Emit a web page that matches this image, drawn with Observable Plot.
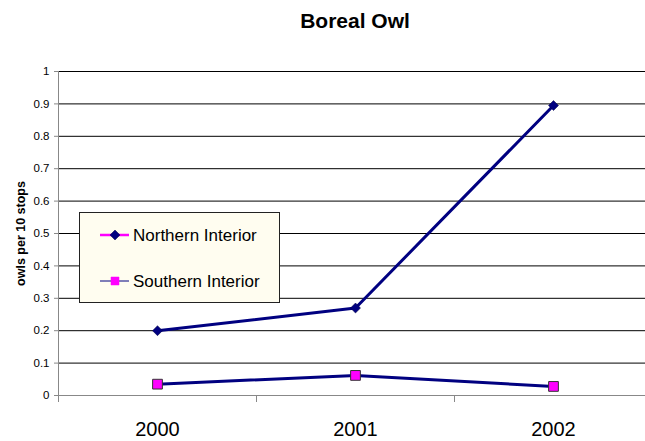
<!DOCTYPE html>
<html>
<head>
<meta charset="utf-8">
<script src="https://cdn.jsdelivr.net/npm/d3@7"></script>
<script src="https://cdn.jsdelivr.net/npm/@observablehq/plot@0.6"></script>
<style>
  html, body { margin: 0; padding: 0; background: #fff; }
  #wrap { position: relative; width: 645px; height: 441px; font-family: "Liberation Sans", Arial, sans-serif; overflow: hidden; }
  #title { height: 46px; width: 645px; text-align: center; box-sizing: border-box; padding-left: 65px; padding-top: 9px; font-weight: bold; font-size: 21px; color: #000; }
  #legend { position: absolute; left: 79px; top: 212px; width: 199px; height: 89px; border: 1px solid #222; background: #FFFDF0; }
</style>
</head>
<body>
<div id="wrap">
  <div id="title">Boreal Owl</div>
  <div id="chart"></div>
  <div id="legend"></div>
</div>
<script>
const years = [2000, 2001, 2002];
const northern = [0.2, 0.27, 0.895];
const southern = [0.035, 0.062, 0.028];
const seriesNames = ["Northern Interior", "Southern Interior"];
const yTicks = [0, 0.1, 0.2, 0.3, 0.4, 0.5, 0.6, 0.7, 0.8, 0.9, 1];
const yTickLabels = ["0", "0.1", "0.2", "0.3", "0.4", "0.5", "0.6", "0.7", "0.8", "0.9", "1"];
const yLabel = "owls per 10 stops";

const north = years.map((y, i) => ({year: y, value: northern[i]}));
const south = years.map((y, i) => ({year: y, value: southern[i]}));
const boundaries = [years[0] - 0.5, years[1] - 0.5, years[2] - 0.5];

const navy = "#000080";
const magenta = "#FF00FF";

const chart = Plot.plot({
  width: 645,
  height: 395,
  marginTop: 25,
  marginBottom: 46,
  marginLeft: 58,
  marginRight: 0,
  style: {fontFamily: "'Liberation Sans', Arial, sans-serif", color: "#000", background: "transparent"},
  x: {domain: [years[0] - 0.5, years[2] + 0.5], range: [58, 652]},
  y: {domain: [0, 1]},
  marks: [
    Plot.ruleY(yTicks.slice(1), {stroke: "#000", strokeWidth: 1}),
    Plot.ruleY([0], {stroke: "#888", strokeWidth: 1}),
    Plot.ruleX([boundaries[0]], {stroke: "#888", strokeWidth: 1}),
    Plot.axisY({ticks: yTicks, tickSize: 4, tickPadding: 5, fontSize: 11.5, stroke: "#888",
      tickFormat: (d, i) => yTickLabels[i],
      label: yLabel, labelAnchor: "center", labelArrow: "none", labelOffset: 42}),
    Plot.axisX({ticks: boundaries, tickSize: 7, tickFormat: () => "", stroke: "#888", label: null}),
    Plot.axisX({ticks: years, tickSize: 0, tickPadding: 26, fontSize: 20, tickFormat: d => String(d), label: null}),
    Plot.line(north, {x: "year", y: "value", stroke: navy, strokeWidth: 3}),
    Plot.line(south, {x: "year", y: "value", stroke: navy, strokeWidth: 3}),
    Plot.dot(north, {x: "year", y: "value", symbol: "diamond2", r: 4.5, fill: navy, stroke: "#000040", strokeWidth: 0.5}),
    Plot.dot(south, {x: "year", y: "value", symbol: "square", r: 5.5, fill: magenta, stroke: "#333", strokeWidth: 1})
  ]
});
d3.select(chart).selectAll("g[aria-label='y-axis label'] text").attr("font-weight", "bold").attr("font-size", 12.5);
document.getElementById("chart").appendChild(chart);

// legend
const lg = d3.select("#legend").append("svg").attr("width", 199).attr("height", 89)
  .style("font-family", "'Liberation Sans', Arial, sans-serif");
const rows = [
  {name: seriesNames[0], y: 22, line: magenta, lw: 2.5, sym: "diamond2", fill: navy, stroke: "#000040", r: 4.5},
  {name: seriesNames[1], y: 68, line: navy, lw: 1, sym: "square", fill: magenta, stroke: magenta, r: 4.5}
];
rows.forEach(r => {
  lg.append("line").attr("x1", 20).attr("x2", 49).attr("y1", r.y).attr("y2", r.y)
    .attr("stroke", r.line).attr("stroke-width", r.lw);
  const sym = r.sym === "square" ? d3.symbolSquare : d3.symbolDiamond2;
  lg.append("path").attr("d", d3.symbol(sym, Math.PI * r.r * r.r)())
    .attr("transform", `translate(35,${r.y})`).attr("fill", r.fill).attr("stroke", r.stroke).attr("stroke-width", 0.5);
  lg.append("text").attr("x", 53).attr("y", r.y).attr("dy", "0.35em").attr("font-size", 17).attr("fill", "#000").text(r.name);
});
</script>
</body>
</html>
